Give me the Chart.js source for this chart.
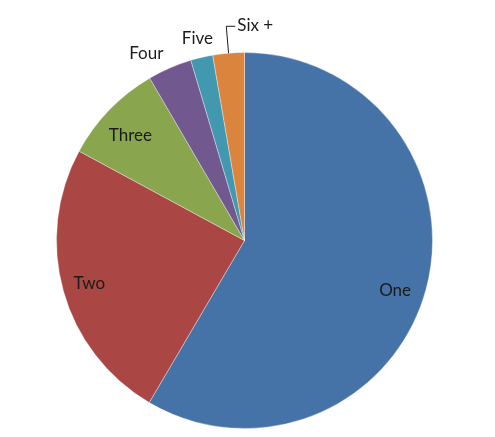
<!DOCTYPE html>
<html>
<head>
<meta charset="utf-8">
<script src="https://cdn.jsdelivr.net/npm/chart.js@4/dist/chart.umd.min.js"></script>
<style>
  html, body { margin: 0; padding: 0; background: #fff; }
  #camembert { display: block; }
</style>
</head>
<body>
<canvas id="camembert" width="495" height="437"></canvas>
<script>
// data (share of the pie, %)
var categories = ['One', 'Two', 'Three', 'Four', 'Five', 'Six +'];
var values = [58.4, 24.4, 8.7, 3.8, 1.9, 2.7];
var colours = ['#4572A7', '#AA4643', '#89A54E', '#71588F', '#4198AF', '#DB843D'];

// how each label sits relative to its slice (turn in degrees, clockwise)
var placement = [
    { mode: 'inside', r: 0.845, turn: 3.3 },
    { mode: 'inside', r: 0.857, turn: 0 },
    { mode: 'inside', r: 0.825, turn: -1.4 },
    { mode: 'outside', gap: 16, align: 'right' },
    { mode: 'outside', gap: 19, align: 'center' },
    { mode: 'leader', gap: 27 }
];

var labelPlugin = {
    id: 'etiquettes',
    afterDatasetsDraw: function(chart) {
        var ctx = chart.ctx;
        var meta = chart.getDatasetMeta(0);
        ctx.save();
        ctx.font = '17px Lato, "Liberation Sans", sans-serif';
        ctx.fillStyle = '#1b1b1b';
        ctx.textBaseline = 'middle';
        meta.data.forEach(function(arc, i) {
            var p = placement[i];
            var mid = (arc.startAngle + arc.endAngle) / 2 + (p.turn || 0) * Math.PI / 180;
            var cos = Math.cos(mid), sin = Math.sin(mid);
            var R = arc.outerRadius;
            var text = chart.data.labels[i];
            if (p.mode === 'inside') {
                ctx.textAlign = 'center';
                ctx.fillText(text, arc.x + cos * R * p.r, arc.y + sin * R * p.r);
            } else if (p.mode === 'outside') {
                ctx.textAlign = p.align;
                ctx.fillText(text, arc.x + cos * (R + p.gap), arc.y + sin * (R + p.gap));
            } else {
                var x0 = arc.x + cos * R, y0 = arc.y + sin * R;
                var x1 = arc.x + cos * (R + p.gap), y1 = arc.y + sin * (R + p.gap);
                ctx.strokeStyle = '#1b1b1b';
                ctx.lineWidth = 1;
                ctx.beginPath();
                ctx.moveTo(x0, y0);
                ctx.lineTo(x1, y1);
                ctx.lineTo(x1 + 9, y1);
                ctx.stroke();
                ctx.textAlign = 'left';
                ctx.fillText(text, x1 + 11, y1 - 1);
            }
        });
        ctx.restore();
    }
};

document.addEventListener('DOMContentLoaded', function() {
    var ctx = document.getElementById('camembert').getContext('2d');
    new Chart(ctx, {
        type: 'pie',
        data: {
            labels: categories,
            datasets: [{
                data: values,
                backgroundColor: colours,
                borderColor: 'rgba(255, 255, 255, 0.35)',
                borderWidth: 1
            }]
        },
        options: {
            responsive: false,
            animation: false,
            layout: {
                padding: { top: 52, bottom: 8, left: 56, right: 62 }
            },
            plugins: {
                legend: { display: false },
                tooltip: { enabled: false }
            }
        },
        plugins: [labelPlugin]
    });
});
</script>
</body>
</html>
